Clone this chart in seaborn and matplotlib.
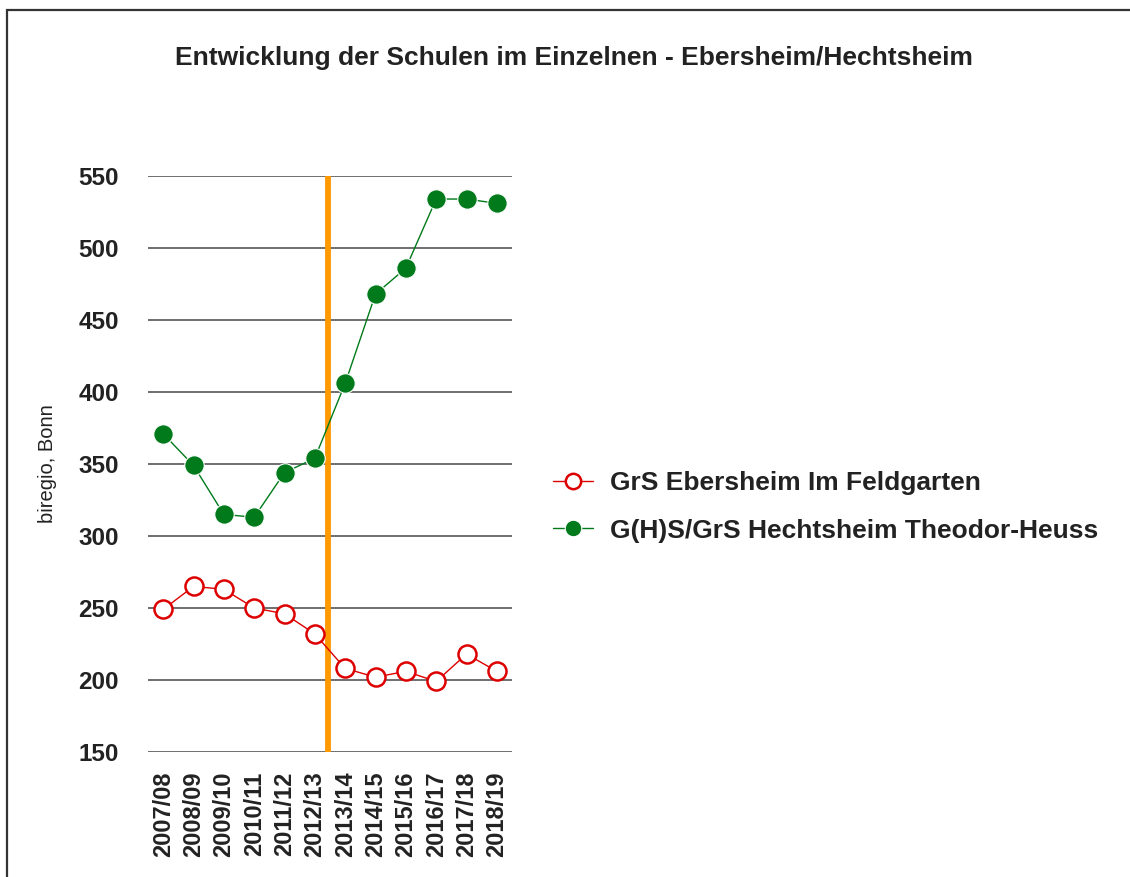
import matplotlib
matplotlib.use("Agg")
import matplotlib.pyplot as plt
import seaborn as sns
import pandas as pd
from matplotlib.patches import Rectangle

years = ["2007/08", "2008/09", "2009/10", "2010/11", "2011/12", "2012/13",
         "2013/14", "2014/15", "2015/16", "2016/17", "2017/18", "2018/19"]
ebersheim = [249, 265, 263, 250, 246, 232, 208, 202, 206, 199, 218, 206]
hechtsheim = [371, 349, 315, 313, 344, 354, 406, 468, 486, 534, 534, 531]
series_names = ["GrS Ebersheim Im Feldgarten", "G(H)S/GrS Hechtsheim Theodor-Heuss"]
y_ticks = [150, 200, 250, 300, 350, 400, 450, 500, 550]
title = "Entwicklung der Schulen im Einzelnen - Ebersheim/Hechtsheim"
y_label = "biregio, Bonn"
marker_pos = 5.45

sns.set_theme(style="white")
plt.rcParams['font.family'] = ['Liberation Sans', 'DejaVu Sans']

df_e = pd.DataFrame({"x": range(len(years)), "y": ebersheim})
df_h = pd.DataFrame({"x": range(len(years)), "y": hechtsheim})

fig = plt.figure(figsize=(11.3, 8.77), dpi=100)
ax = fig.add_axes([148/1130, 1-752/877, (512-148)/1130, (752-176)/877])

for yt in y_ticks:
    ax.axhline(yt, color="#555555", lw=1.2, zorder=1)

ax.axvline(marker_pos, color="#FF9900", lw=4.2, zorder=2)

red = "#DD0000"
green = "#007A1A"
sns.lineplot(data=df_e, x="x", y="y", ax=ax, color=red, lw=1.0,
             marker="o", markersize=13, markerfacecolor="white",
             markeredgecolor=red, markeredgewidth=1.8, label=series_names[0], zorder=3)
sns.lineplot(data=df_h, x="x", y="y", ax=ax, color=green, lw=1.0,
             marker="o", markersize=14, markerfacecolor=green,
             markeredgecolor="white", markeredgewidth=0.8, label=series_names[1], zorder=3)

ax.set_xlim(-0.5, len(years) - 0.5)
ax.set_ylim(150, 550)
ax.set_yticks(y_ticks)
ax.set_yticklabels([str(v) for v in y_ticks], fontsize=17.5, fontweight="bold", color="#222222")
ax.set_xticks(range(len(years)))
ax.set_xticklabels(years, rotation=90, fontsize=17, fontweight="bold", color="#222222")
ax.tick_params(axis="y", length=0, pad=21)
ax.tick_params(axis="x", length=0, pad=14)
for s in ax.spines.values():
    s.set_visible(False)
ax.set_xlabel("")
ax.set_ylabel(y_label, fontsize=14.5, color="#222222")
ax.yaxis.set_label_coords(-0.25, 0.5)

leg = ax.legend(loc="center left", bbox_to_anchor=(553/1130, 1-507/877),
                bbox_transform=fig.transFigure, frameon=False,
                prop={"size": 19, "weight": "bold"}, handlelength=1.5,
                handletextpad=0.65, labelspacing=0.88, markerscale=0.85,
                borderpad=0, borderaxespad=0)
for t in leg.get_texts():
    t.set_color("#222222")

fig.text(573.5/1130, 1-58/877, title, ha="center", va="center",
         fontsize=19, fontweight="bold", color="#222222")

fig.patches.append(Rectangle((7/1130, -0.05), 1.2, 1-10/877+0.05,
                             transform=fig.transFigure, fill=False,
                             edgecolor="#333333", lw=1.6, zorder=10))

fig.savefig("out.png", dpi=100)
